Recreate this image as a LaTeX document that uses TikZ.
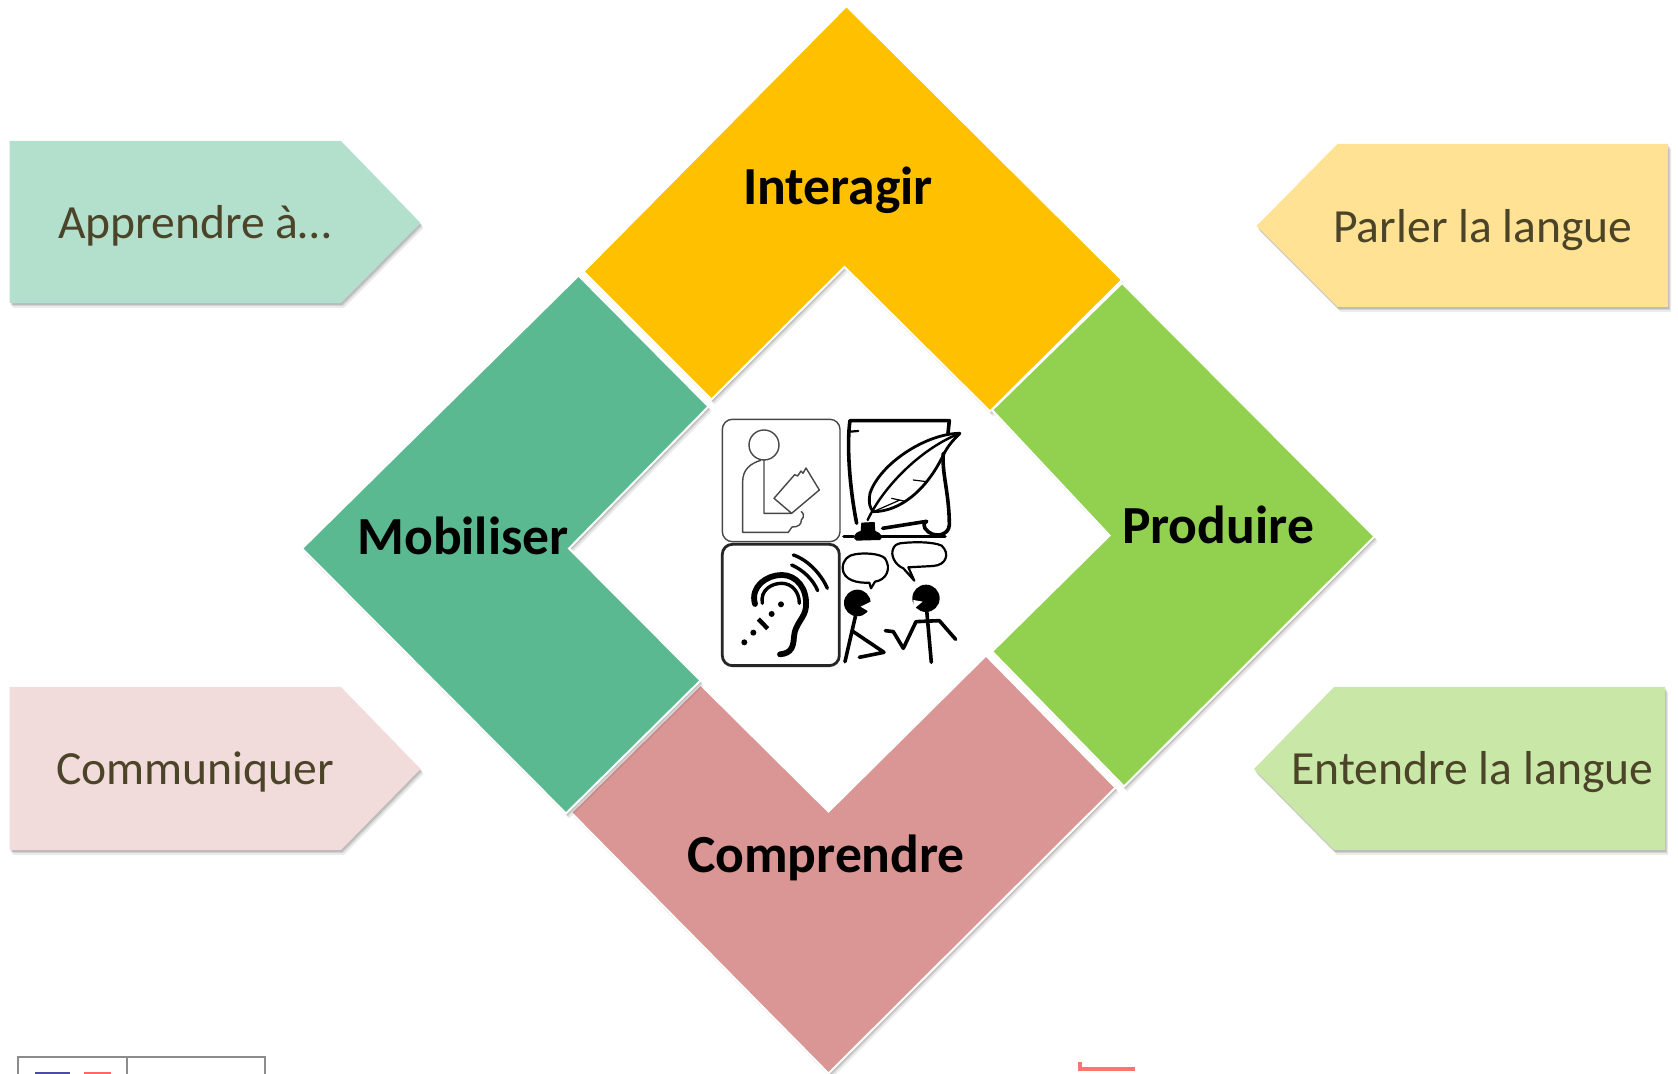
\documentclass[tikz,border=0pt]{standalone}
\usepackage{fontspec}
\setmainfont{Carlito}
\usetikzlibrary{calc}
\definecolor{cInter}{HTML}{FFC000}
\definecolor{cProd}{HTML}{92D050}
\definecolor{cComp}{HTML}{D99694}
\definecolor{cMob}{HTML}{5AB990}
\definecolor{cA}{HTML}{B3E0CC}
\definecolor{cP}{HTML}{FFE293}
\definecolor{cC}{HTML}{F2DCDB}
\definecolor{cE}{HTML}{C9E8A7}
\definecolor{cTxt}{HTML}{4C4429}
\tikzset{
  chev/.style={draw=white,line width=1pt,line join=miter},
  shadeA/.style={fill=black,opacity=.10,shift={(1,2)}},
  shadeB/.style={fill=black,opacity=.10,shift={(2,3)}},
  shadeC/.style={fill=black,opacity=.08,shift={(3,5)}},
  big/.style={font=\fontsize{26.8}{30}\selectfont\bfseries,text=black,inner sep=0pt},
  small/.style={font=\fontsize{23.8}{28}\selectfont,text=cTxt,inner sep=0pt},
  thinico/.style={draw=black!72,line width=.7pt,line join=round},
  ico/.style={draw=black,line width=1.1pt,line cap=round,line join=round},
  icob/.style={draw=black,line width=1.8pt,line cap=round,line join=round},
}
\newcommand{\dualshape}[2]{%
  \path[shadeA] #2; \path[shadeB] #2; \path[shadeC] #2;
  \path[chev,fill=#1] #2;}
\newcommand{\tagshape}[2]{%
  \path[shadeA] #2; \path[shadeB] #2; \path[shadeC] #2;
  \path[fill=#1] #2;}
\begin{document}
\begin{tikzpicture}[x=.5pt,y=-.5pt]
\useasboundingbox (0,0) rectangle (1678,1074);
\clip (0,0) rectangle (1678,1074);
\fill[white] (0,0) rectangle (1678,1074);
% bottom fragments
\draw[black!45,line width=1pt] (18,1080) -- (18,1057) -- (265,1057) -- (265,1080);
\draw[black!45,line width=1pt] (127,1057) -- (127,1080);
\fill[blue!50!black!70] (35,1072) rectangle (70,1080);
\fill[red!60] (84,1072) rectangle (111,1080);
\draw[red!55!white,line width=2.2pt] (1080,1062) -- (1080,1069) -- (1135,1069);
% tags
\tagshape{cA}{(9.5,141) -- (341,141) -- (420.5,223) -- (341,303) -- (9.5,303) -- cycle}
\tagshape{cP}{(1668,144) -- (1337.5,144) -- (1256.5,226) -- (1337.5,307) -- (1668,307) -- cycle}
\tagshape{cC}{(9.5,687) -- (341,687) -- (420.5,769) -- (341,850) -- (9.5,850) -- cycle}
\tagshape{cE}{(1665,687) -- (1334,687) -- (1254,769) -- (1334,850) -- (1665,850) -- cycle}
% chevrons
\begin{scope}[shift={(-1,-1.5)}]
\dualshape{cInter}{(847.5,7.5) -- (1123,281.5) -- (991,413) -- (845.5,268.5) -- (712.5,401) -- (584.5,273) -- cycle}
\dualshape{cProd}{(1123,284.5) -- (1375.5,538) -- (1125,788) -- (993,653) -- (1110.5,537) -- (993,411.5) -- cycle}
\dualshape{cComp}{(987,657) -- (1116.5,789) -- (829.5,1075) -- (572,814) -- (701.5,686) -- (829.5,813) -- cycle}
\dualshape{cMob}{(579.5,277) -- (709.5,408) -- (570,550) -- (701.5,682) -- (567,815) -- (303,550) -- cycle}
\end{scope}
% labels
\node[big] (inter) at (838,190) {Interagir};
\node[big] (prod) at (1218,525) {Produire};
\node[big] (comp) at (826,858) {Comprendre};
\node[big] (mob) at (463,536) {Mobiliser};
\node[small] (appr) at (195,226) {Apprendre à…};
\node[small] (parl) at (1483,230) {Parler la langue};
\node[small] (comm) at (195,772) {Communiquer};
\node[small] (ente) at (1472.5,772) {Entendre la langue};
% central icons (coordinates in a 3x grid)
\begin{scope}[shift={(700,400)},x=.5pt/3,y=-.5pt/3]
% reader
\draw[thinico,rounded corners=5pt] (67,58) rectangle (420,425);
\draw[thinico] (192,135) circle[radius=45];
\draw[thinico] (183,181) .. controls (150,190) and (128,210) .. (128,245) -- (128,397) -- (265,397) -- (276,381) .. controls (295,382) and (305,372) .. (304,360) .. controls (315,350) and (310,338) .. (303,334);
\draw[thinico] (192,180) -- (192,340) -- (275,340) -- (222,295) -- (284,224) -- (293,228) -- (303,213) -- (309,220) -- (318,204) -- (358,270) -- (275,340);
% quill and scroll
\draw[icob] (450,62) -- (748,62) -- (744,100);
\draw[icob] (450,62) .. controls (440,130) and (448,260) .. (470,370);
\draw[ico] (450,95) -- (475,93);
\draw[icob] (730,160) .. controls (725,220) and (748,280) .. (748,375) .. controls (748,405) and (700,420) .. (675,385) .. controls (670,370) and (672,368) .. (680,364);
\draw[icob] (680,364) -- (548,385);
\draw[icob] (432,410) -- (460,410);
\draw[icob] (545,410) -- (735,410);
\draw[ico,line width=1.4pt] (780,100) .. controls (680,100) and (540,190) .. (510,280) .. controls (505,310) and (510,325) .. (520,335) .. controls (600,335) and (680,270) .. (730,165) .. controls (745,135) and (760,120) .. (780,100) -- cycle;
\draw[ico,line width=1.2pt] (770,104) .. controls (660,150) and (550,260) .. (503,360);
\draw[ico,line width=.6pt] (520,335) -- (600,300) (640,240) -- (680,245) (575,295) -- (620,305);
\fill[black] (484,368) -- (524,366) -- (526,393) .. controls (545,398) and (550,415) .. (540,420) -- (470,422) .. controls (455,415) and (462,398) .. (482,393) -- cycle;
% ear box
\draw[black!85,line width=1.4pt,rounded corners=5pt] (67,433) rectangle (418,797);
\draw[black,line width=2.9pt,line cap=round] (165,612) .. controls (150,560) and (200,525) .. (245,525) .. controls (290,525) and (322,565) .. (318,620) .. controls (315,655) and (285,670) .. (282,710) .. controls (280,740) and (275,760) .. (240,763);
\draw[black,line width=1.7pt,line cap=round] (187,610) .. controls (180,570) and (215,550) .. (245,550) .. controls (275,550) and (298,575) .. (298,610);
\draw[black,line width=1.7pt,line cap=round] (275,495) .. controls (310,510) and (340,540) .. (353,572);
\draw[black,line width=1.7pt,line cap=round] (280,465) .. controls (325,480) and (365,525) .. (382,565);
\fill[black] (243,613) circle[radius=9] (215,642) circle[radius=9] (160,698) circle[radius=9] (133,727) circle[radius=9];
\draw[black,line width=2.2pt] (175,657) -- (203,686);
% speakers
\draw[ico] (465,463) .. controls (490,458) and (540,460) .. (555,475) .. controls (575,505) and (560,540) .. (525,545) -- (513,565) -- (508,548) .. controls (470,550) and (430,540) .. (428,505) .. controls (428,480) and (445,465) .. (465,463) -- cycle;
\draw[ico] (600,430) .. controls (640,425) and (700,425) .. (725,437) .. controls (750,460) and (740,495) .. (700,498) -- (625,502) -- (643,542) -- (610,505) .. controls (585,495) and (570,465) .. (580,445) .. controls (585,435) and (590,432) .. (600,430) -- cycle;
\fill[black] (472,609) circle[radius=40];
\fill[white] (515,604) -- (482,620) -- (515,640) -- cycle;
\fill[black] (678,595) circle[radius=41];
\fill[white] (640,600) -- (668,605) -- (640,628) -- cycle;
\draw[icob] (466,650) -- (435,785);
\draw[icob] (460,695) -- (552,757) -- (478,772);
\draw[icob] (680,630) -- (694,787);
\draw[icob] (556,692) -- (580,695) -- (610,745) -- (648,665) -- (718,662) -- (767,718);
\end{scope}
\end{tikzpicture}
\end{document}
